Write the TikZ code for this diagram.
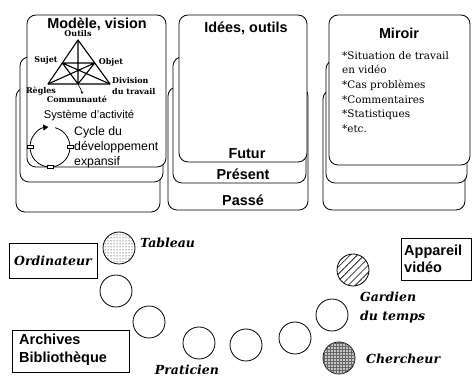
\documentclass[tikz,border=0pt]{standalone}
\usepackage{fontspec}
\setmainfont{DejaVu Serif}
\setsansfont{Liberation Sans}
\usetikzlibrary{patterns,patterns.meta,arrows.meta}
\tikzset{
  card/.style={draw, fill=white, rounded corners=9pt, line width=0.8pt},
  person/.style={draw, circle, minimum size=32pt, inner sep=0pt, line width=0.8pt},
  role/.style={font=\bfseries\itshape\fontsize{12.5}{19}\selectfont, inner sep=0pt, align=left},
  tri/.style={font=\bfseries\fontsize{8}{11.5}\selectfont, inner sep=0pt},
  ttl/.style={font=\sffamily\bfseries\fontsize{14.4}{16}\selectfont, inner sep=0pt},
  tick/.style={draw, fill=white, line width=0.5pt, minimum width=6pt, minimum height=3pt, inner sep=0pt},
  tline/.style={line width=1.1pt},
  labbox/.style={draw, line width=0.7pt, inner sep=0pt},
  boxtxt/.style={font=\sffamily\bfseries\fontsize{14.5}{17.5}\selectfont, inner sep=0pt, align=left, anchor=west}
}
\begin{document}
\begin{tikzpicture}[x=1pt,y=-1pt]
\useasboundingbox (0,0) rectangle (472,379);
% ---- left stack
\draw[card] (16,88) rectangle (160,212);
\draw[card] (20,57) rectangle (163,182);
\draw[card] (27,15) rectangle (166,167);
% ---- middle stack
\draw[card] (168,87) rectangle (308,210);
\draw[card] (173,57) rectangle (306,183);
\draw[card] (179,15) rectangle (307,162);
% ---- right stack
\draw[card] (323,90) rectangle (465,210);
\draw[card] (326,60) rectangle (467,183);
\draw[card] (329,15) rectangle (470,165);

% ---- left card content
\node[ttl] (modele) at (97,24) {Modèle, vision};
\coordinate (O) at (78,40);
\coordinate (R) at (48,84);
\coordinate (D) at (110,84);
\coordinate (S) at (62.3,63);
\coordinate (Ob) at (94.7,63);
\coordinate (C) at (78,84);
\draw[tline, line join=round] (O) -- (R) -- (D) -- cycle;
\draw[tline] (S) -- (Ob) (O) -- (C) (S) -- (D) (S) -- (C) (Ob) -- (R) (Ob) -- (C);
\node[tri] (outils) at (78,34) {Outils};
\node[tri] (sujet) at (46,60) {Sujet};
\node[tri] (objet) at (111,62) {Objet};
\node[tri, align=left, anchor=west] (division) at (112,86) {Division\\du travail};
\node[tri] (regles) at (41,91) {Règles};
\node[tri] (commu) at (77,99) {Communauté};
\draw[line width=0.6pt, -{Stealth[length=2.5pt,width=2.5pt]}] (C) to[out=-70,in=90] (82,94);
\node[font=\sffamily\fontsize{11.2}{13}\selectfont, inner sep=0pt] (systeme) at (89,116) {Système d'activité};
\coordinate (cyc) at (50,147);
\draw[line width=0.8pt, -{Triangle[length=5pt,width=6pt]}] (cyc) ++(285:20) arc[start angle=285, end angle=625, radius=20];
\node[tick] (tl) at (30,147) {};
\node[tick] (tr) at (70,147) {};
\node[tick] (tb) at (50,167) {};
\node[font=\sffamily\fontsize{12.3}{15}\selectfont, inner sep=0pt, align=left, anchor=west] (cycle) at (74,147) {Cycle du\\développement\\expansif};

% ---- middle card content
\node[ttl] (idees) at (246,28) {Idées, outils};
\node[ttl] (futur) at (247,154) {Futur};
\node[ttl] (present) at (243,174) {Présent};
\node[ttl] (passe) at (243,200) {Passé};

% ---- right card content
\node[ttl] (miroir) at (399,33) {Miroir};
\node[font=\fontsize{10.4}{14.7}\selectfont, inner sep=0pt, align=left, anchor=north west] (liste) at (342,51)
  {*Situation de travail\\en vidéo\\*Cas problèmes\\*Commentaires\\*Statistiques\\*etc.};

% ---- bottom scene
\node[labbox, minimum width=88pt, minimum height=35pt, font=\bfseries\itshape\fontsize{12.5}{14}\selectfont] (ordi) at (53,260.5) {Ordinateur};
\node[labbox, minimum width=117pt, minimum height=42pt] (archbox) at (70.5,351) {};
\node[boxtxt] (archives) at (19,350) {Archives\\Bibliothèque};
\node[labbox, minimum width=70pt, minimum height=42pt] (appbox) at (436,259) {};
\node[boxtxt] (appareil) at (404,259) {Appareil\\vidéo};

\node[person, pattern=dots] (tableau) at (119,248) {};
\node[person] (p2) at (116,291) {};
\node[person] (p3) at (149,322) {};
\node[person] (p4) at (199,343) {};
\node[person] (p5) at (246,345) {};
\node[person] (p6) at (295,338) {};
\node[person] (p7) at (332,315) {};
\node[person, pattern={Lines[angle=45,distance=5pt,line width=0.6pt]}] (gardien) at (353,270) {};
\node[person, fill=gray!45, postaction={pattern=grid, pattern color=gray!80!black}] (cherch) at (339,358) {};

\node[role, anchor=west] (ltab) at (140,243) {Tableau};
\node[role, anchor=west] (lgar) at (360,307.5) {Gardien\\du temps};
\node[role, anchor=west] (lch) at (366,359) {Chercheur};
\node[role] (lprat) at (187,370) {Praticien};
\end{tikzpicture}
\end{document}
